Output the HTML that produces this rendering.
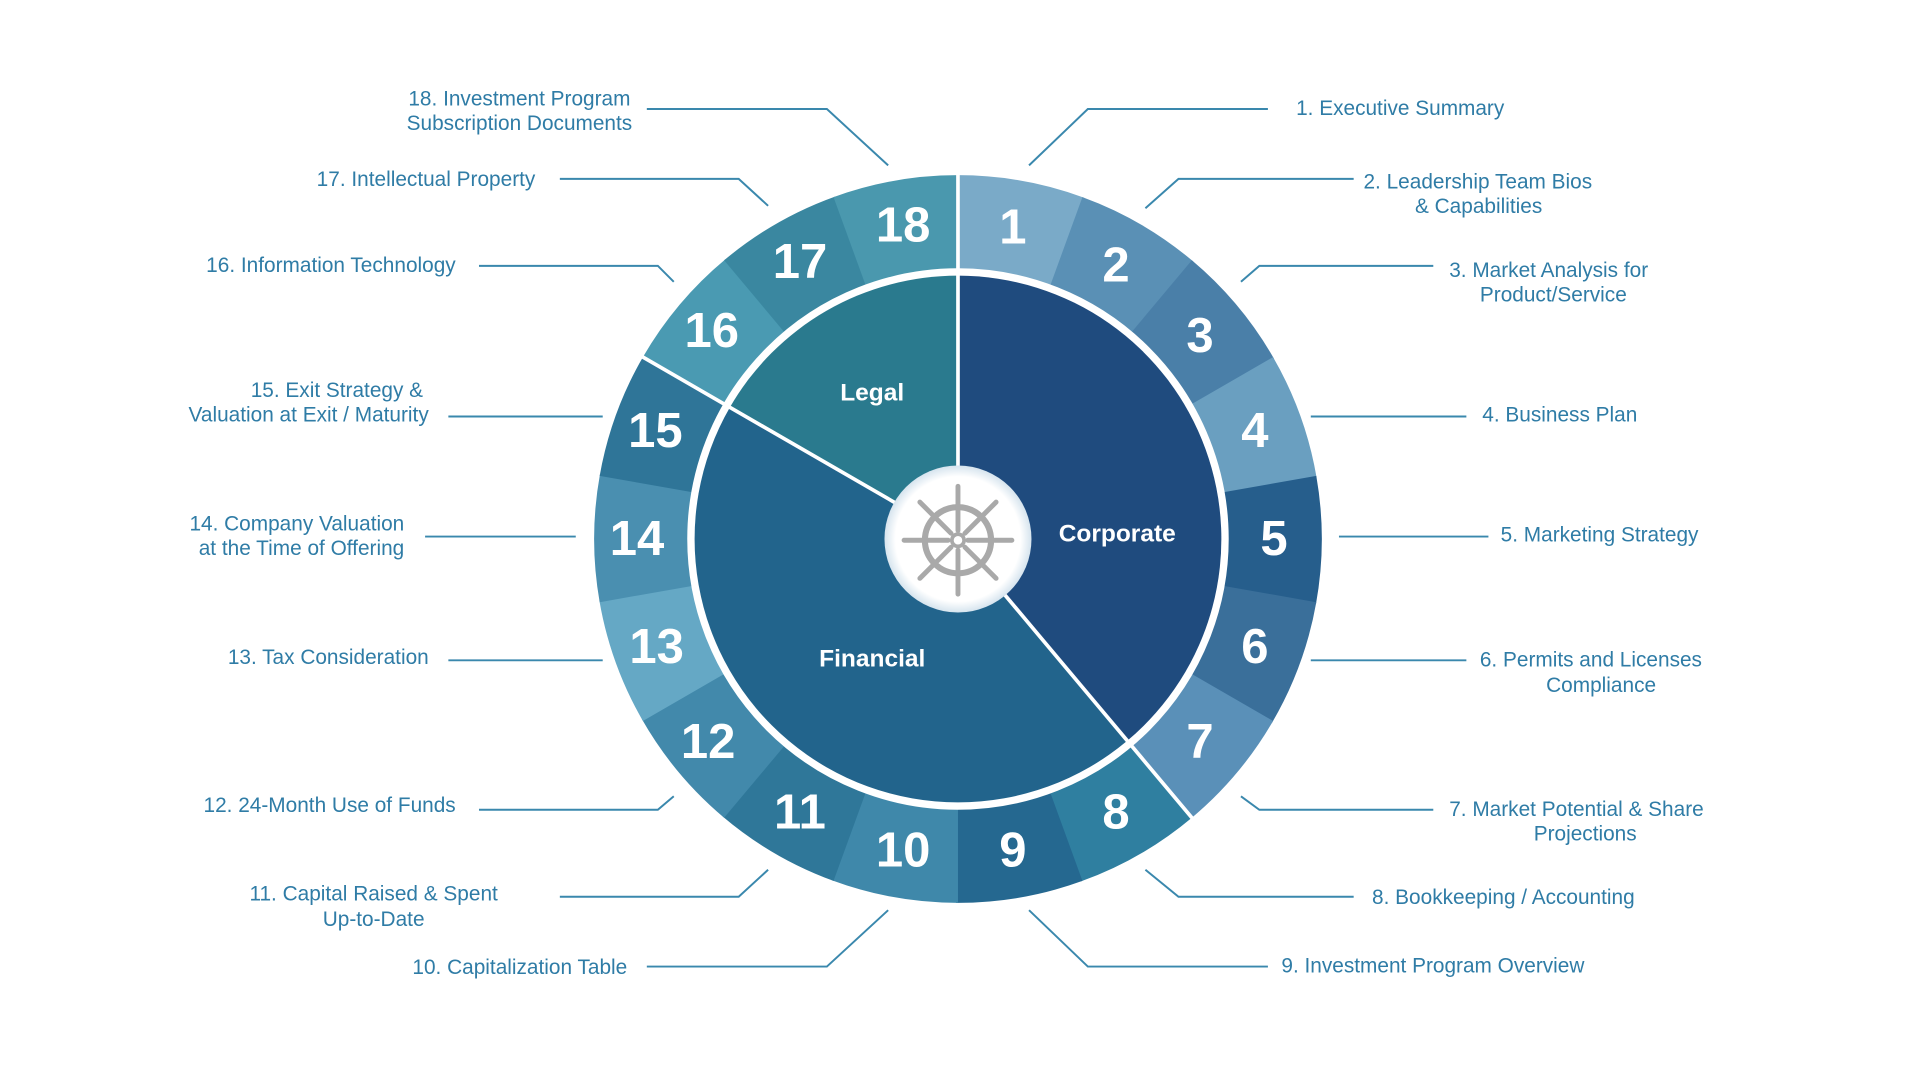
<!DOCTYPE html>
<html><head><meta charset="utf-8"><style>
html,body{margin:0;padding:0;background:#fff;width:1920px;height:1080px;overflow:hidden}
svg{display:block}
.lb{font-family:"Liberation Sans",Arial,sans-serif;font-size:17px;fill:#2f7ca6}
.nm{font-family:"Liberation Sans",Arial,sans-serif;font-size:40px;font-weight:bold;fill:#fff}
.pt{font-family:"Liberation Sans",Arial,sans-serif;font-size:20px;font-weight:bold;fill:#fff}
.ln{stroke:#3a88ad;stroke-width:1.6;fill:none}
</style></head><body>
<svg width="1920" height="1080" viewBox="0 0 1567.3 881.6" xmlns="http://www.w3.org/2000/svg">
<defs>
<radialGradient id="cg"><stop offset="0.85" stop-color="#fff"/><stop offset="1" stop-color="#d6e4ee"/></radialGradient>
</defs>
<g id="ring"></g>
<g id="pie"></g>
<circle cx="782" cy="440" r="218.5" fill="none" stroke="#fff" stroke-width="5"/>
<line x1="782" y1="440" x2="782" y2="140" stroke="#fff" stroke-width="3"/>
<line x1="782" y1="440" x2="975.2" y2="670.2" stroke="#fff" stroke-width="3"/>
<line x1="782" y1="440" x2="521.5" y2="289.6" stroke="#fff" stroke-width="3"/>
<circle cx="782" cy="440" r="60" fill="url(#cg)"/>
<g stroke="#a9a9a9" fill="none" stroke-linecap="round">
<circle cx="782" cy="441" r="27" stroke-width="5"/>
<circle cx="782" cy="441" r="5" stroke-width="3"/>
<g stroke-width="4" id="spk"></g>
</g>
<g class="nm" text-anchor="middle" dominant-baseline="central">
<text x="826.8" y="185.9">1</text><text x="911" y="216.6">2</text><text x="979.6" y="274.2">3</text>
<text x="1024.4" y="351.8">4</text><text x="1040" y="440">5</text><text x="1024.4" y="528.2">6</text>
<text x="979.6" y="605.8">7</text><text x="911" y="663.4">8</text><text x="826.8" y="694.1">9</text>
<text x="737.2" y="694.1">10</text><text x="653" y="663.4">11</text><text x="578" y="605.8">12</text>
<text x="536" y="528.2">13</text><text x="520" y="440">14</text><text x="535" y="351.8">15</text>
<text x="581" y="270">16</text><text x="653" y="214">17</text><text x="737.2" y="184">18</text>
</g>
<g class="pt" text-anchor="middle" dominant-baseline="central">
<text x="712" y="321">Legal</text><text x="912" y="436">Corporate</text><text x="712" y="538">Financial</text>
</g>
<g class="ln">
<polyline points="840,135 888,89 1035,89"/>
<polyline points="935,170 962,146 1105,146"/>
<polyline points="1013,230 1028,217 1170,217"/>
<polyline points="1070,340 1197,340"/>
<polyline points="1093,438 1215,438"/>
<polyline points="1070,539 1197,539"/>
<polyline points="1013,650 1028,661 1170,661"/>
<polyline points="935,710 962,732 1105,732"/>
<polyline points="840,743 888,789 1035,789"/>
<polyline points="725,743 675,789 528,789"/>
<polyline points="627,710 603,732 457,732"/>
<polyline points="550,650 537,661 391,661"/>
<polyline points="366,539 492,539"/>
<polyline points="347,438 470,438"/>
<polyline points="366,340 492,340"/>
<polyline points="550,230 537,217 391,217"/>
<polyline points="627,168 603,146 457,146"/>
<polyline points="725,135 675,89 528,89"/>
</g>
<g class="lb">
<text x="1058" y="94">1. Executive Summary</text>
<text x="1113" y="154">2. Leadership Team Bios</text>
<text x="1207" y="174" text-anchor="middle">&amp; Capabilities</text>
<text x="1183" y="226">3. Market Analysis for</text>
<text x="1268" y="246" text-anchor="middle">Product/Service</text>
<text x="1210" y="344">4. Business Plan</text>
<text x="1225" y="442">5. Marketing Strategy</text>
<text x="1208" y="544">6. Permits and Licenses</text>
<text x="1307" y="565" text-anchor="middle">Compliance</text>
<text x="1183" y="666">7. Market Potential &amp; Share</text>
<text x="1294" y="686" text-anchor="middle">Projections</text>
<text x="1120" y="738">8. Bookkeeping / Accounting</text>
<text x="1046" y="794">9. Investment Program Overview</text>
<text x="512" y="795" text-anchor="end">10. Capitalization Table</text>
<text x="305" y="735" text-anchor="middle">11. Capital Raised &amp; Spent</text>
<text x="305" y="756" text-anchor="middle">Up-to-Date</text>
<text x="372" y="663" text-anchor="end">12. 24-Month Use of Funds</text>
<text x="350" y="542" text-anchor="end">13. Tax Consideration</text>
<text x="330" y="433" text-anchor="end">14. Company Valuation</text>
<text x="330" y="453" text-anchor="end">at the Time of Offering</text>
<text x="275" y="324" text-anchor="middle">15. Exit Strategy &amp;</text>
<text x="350" y="344" text-anchor="end">Valuation at Exit / Maturity</text>
<text x="372" y="222" text-anchor="end">16. Information Technology</text>
<text x="437" y="152" text-anchor="end">17. Intellectual Property</text>
<text x="424" y="86" text-anchor="middle">18. Investment Program</text>
<text x="424" y="106" text-anchor="middle">Subscription Documents</text>
</g>
</svg>
<script>
var cx=782,cy=440,NS="http://www.w3.org/2000/svg";
function pt(r,a){a=a*Math.PI/180;return [cx+r*Math.sin(a),cy-r*Math.cos(a)];}
function arc(r0,r1,a0,a1,col,g){var p0=pt(r1,a0),p1=pt(r1,a1),p2=pt(r0,a1),p3=pt(r0,a0);var lg=(a1-a0)>180?1:0;
var d="M"+p0+"A"+r1+","+r1+" 0 "+lg+" 1 "+p1+"L"+p2+(r0>0?"A"+r0+","+r0+" 0 "+lg+" 0 "+p3:"")+"Z";
var e=document.createElementNS(NS,"path");e.setAttribute("d",d);e.setAttribute("fill",col);g.appendChild(e);}
var cols=["#7aaac8","#5a90b5","#4a7fa8","#6a9fc0","#265e8c","#3a6f9a","#5a90b8","#2f7fa0","#256890","#3f88aa","#2f7799","#4289ab","#65a8c5","#4a8fb0","#2f7598","#4a9ab2","#3a87a0","#4a98ae"];
var rg=document.getElementById("ring");
for(var i=0;i<18;i++)arc(220,297,i*20,(i+1)*20+0.3,cols[i],rg);
var pg=document.getElementById("pie");
arc(0,215,0,140,"#1f4b7e",pg);arc(0,215,140,300,"#22648c",pg);arc(0,215,300,360,"#2a7a8e",pg);
var sg=document.getElementById("spk");
for(var k=0;k<8;k++){var a=k*45,p=pt(8,a),q=pt(44,a);var l=document.createElementNS(NS,"line");
l.setAttribute("x1",p[0]);l.setAttribute("y1",p[1]+1);l.setAttribute("x2",q[0]);l.setAttribute("y2",q[1]+1);sg.appendChild(l);}
</script>
</body></html>
